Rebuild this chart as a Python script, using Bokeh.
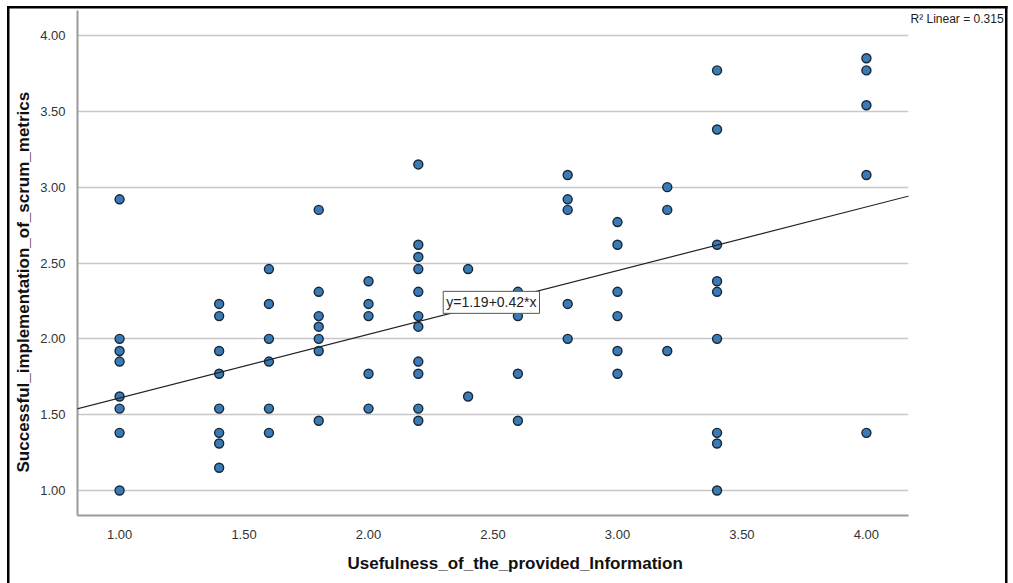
from bokeh.plotting import figure
from bokeh.models import Label, Title, Range1d, FixedTicker, NumeralTickFormatter, Slope
from bokeh.embed import file_html
from bokeh.resources import INLINE

# Usefulness values (x columns) and the Successful_implementation values at each
x_levels = [1.0, 1.4, 1.6, 1.8, 2.0, 2.2, 2.4, 2.6, 2.8, 3.0, 3.2, 3.4, 4.0]
y_at_100 = [2.92, 2.00, 1.92, 1.85, 1.62, 1.54, 1.38, 1.00]
y_at_140 = [2.23, 2.15, 1.92, 1.77, 1.54, 1.38, 1.31, 1.15]
y_at_160 = [2.46, 2.23, 2.00, 1.85, 1.54, 1.38]
y_at_180 = [2.85, 2.31, 2.15, 2.08, 2.00, 1.92, 1.46]
y_at_200 = [2.38, 2.23, 2.15, 1.77, 1.54]
y_at_220 = [3.15, 2.62, 2.54, 2.46, 2.31, 2.15, 2.08, 1.85, 1.77, 1.54, 1.46]
y_at_240 = [2.46, 1.62]
y_at_260 = [2.31, 2.15, 1.77, 1.46]
y_at_280 = [3.08, 2.92, 2.85, 2.23, 2.00]
y_at_300 = [2.77, 2.62, 2.31, 2.15, 1.92, 1.77]
y_at_320 = [3.00, 2.85, 1.92]
y_at_340 = [3.77, 3.38, 2.62, 2.38, 2.31, 2.00, 1.38, 1.31, 1.00]
y_at_400 = [3.85, 3.77, 3.54, 3.08, 1.38]

fit_intercept = 1.19
fit_slope = 0.42
r2_linear = 0.315

x_ticks = [1.0, 1.5, 2.0, 2.5, 3.0, 3.5, 4.0]
y_ticks = [1.0, 1.5, 2.0, 2.5, 3.0, 3.5, 4.0]

groups = [y_at_100, y_at_140, y_at_160, y_at_180, y_at_200, y_at_220, y_at_240,
          y_at_260, y_at_280, y_at_300, y_at_320, y_at_340, y_at_400]
xs, ys = [], []
for xv, grp in zip(x_levels, groups):
    for yv in grp:
        xs.append(xv)
        ys.append(yv)

FONT = "Liberation Sans"

frame_styles = {
    "background-color": "white",
    "background-image": "linear-gradient(#000,#000), linear-gradient(#000,#000), linear-gradient(#000,#000)",
    "background-position": "7px 6px, 7px 6px, 1005px 6px",
    "background-size": "2.5px 100%, 1000.5px 2.5px, 2.5px 100%",
    "background-repeat": "no-repeat",
}

p = figure(width=1013, height=583, output_backend="svg", toolbar_location=None,
           x_range=Range1d(0.831, 4.169), y_range=Range1d(0.835, 4.165),
           min_border_left=77, min_border_right=105, min_border_top=10, min_border_bottom=68,
           styles=frame_styles)
p.background_fill_color = "white"
p.border_fill_color = None
p.outline_line_color = None

p.xgrid.grid_line_color = None
p.ygrid.grid_line_color = "#c8c8c8"
p.ygrid.grid_line_width = 1.5

for ax in (p.xaxis[0], p.yaxis[0]):
    ax.axis_line_color = "#9a9a9a"
    ax.axis_line_width = 2
    ax.major_tick_line_color = None
    ax.minor_tick_line_color = None
    ax.major_label_text_font = FONT
    ax.major_label_text_font_size = "13px"
    ax.major_label_text_color = "#333333"
    ax.formatter = NumeralTickFormatter(format="0.00")

p.xaxis[0].ticker = FixedTicker(ticks=x_ticks)
p.yaxis[0].ticker = FixedTicker(ticks=y_ticks)
p.xaxis[0].major_label_standoff = 8
p.yaxis[0].major_label_standoff = 6

p.add_layout(Slope(gradient=fit_slope, y_intercept=fit_intercept, line_color="#222222", line_width=1.2))

p.scatter(xs, ys, size=9, fill_color="#3c7ab4", line_color="#15273a", line_width=1.4)

p.add_layout(Label(x=2.30, y=2.168, text=f"y={fit_intercept}+{fit_slope}*x",
                   text_font=FONT, text_font_size="14px", text_color="#222222",
                   border_line_color="#555555", border_line_width=1,
                   background_fill_color="white", padding=3))

p.add_layout(Title(text=f"R\u00b2 Linear = {r2_linear}", align="left", offset=833,
                   vertical_align="bottom",
                   text_font=FONT, text_font_size="12px", text_font_style="normal",
                   text_color="#222222", standoff=-30), "above")

p.add_layout(Title(text="Usefulness_of_the_provided_Information", align="left", offset=270,
                   text_font=FONT, text_font_size="17px", text_font_style="bold",
                   text_color="#111111", standoff=21), "below")

p.add_layout(Title(text="Successful_implementation_of_scrum_metrics", align="left", offset=43,
                   text_font=FONT, text_font_size="17px", text_font_style="bold",
                   text_color="#111111", standoff=10), "left")

open("out.html", "w").write(file_html(p, INLINE))
